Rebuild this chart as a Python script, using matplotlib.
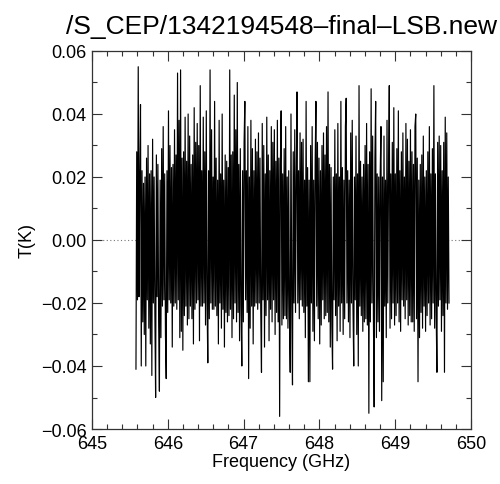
import numpy as np
import matplotlib
matplotlib.use("Agg")
import matplotlib.pyplot as plt
from matplotlib.ticker import MultipleLocator

plt.rcParams["font.family"] = ["Liberation Sans", "DejaVu Sans"]

TITLE = "/S_CEP/1342194548\u2013final\u2013LSB.new"

# channel grid of the LSB spectrum (GHz), first and last channel
F_START, F_END = 645.58, 649.71

# antenna temperature per channel, in mK
t_mk = [
    -41, 28, -19, 55, -18, 21, 43, -40, 22, -26, 18, -30, 20, -40, 26, -19, 30, -28, 21, -33,
    22, -43, 32, -20, 20, -23, -50, 27, -18, 24, -26, -48, 19, -31, 29, -21, 36, -19, 21, -30,
    -44, 22, -23, 41, -19, 30, -20, 23, -34, 24, -21, 35, -20, 27, -22, 53, -19, 38, -31, 54,
    -29, 26, -35, 28, -24, 39, -21, 25, -27, 40, -25, 33, -21, 24, -25, 27, -33, 42, -22, 31,
    -20, 37, -19, 30, -32, 49, -21, 22, -21, 39, -20, 28, -27, 41, -19, -39, 22, -25, 54, -20,
    35, -22, 20, -22, 44, -21, 26, -24, 19, -33, 38, -20, 21, -28, 40, -22, 19, -34, 27, -23,
    25, -26, 23, -24, 54, -22, 27, -31, 28, -25, 46, -20, 35, -26, 50, -23, 24, -32, 29, -21,
    -40, 22, -26, 31, 44, -19, 22, -23, 36, -44, 20, -28, 38, -21, 29, -33, 22, -21, 32, -20,
    28, -22, 34, -20, 26, -22, -42, 37, -19, 30, -34, 21, -24, 39, -19, 27, -32, 22, -22, 36,
    -26, 31, -19, 35, -30, 25, -23, 38, -26, 26, -56, 24, 41, -27, 21, -25, 29, -24, 36, -25,
    20, -28, 22, -24, -42, 40, -21, -46, 28, -20, 35, -23, 19, 47, -20, 22, -25, 34, -19, 31,
    -21, 32, -23, 19, -31, 44, -21, 23, -45, 19, -45, 30, -20, 36, -29, 19, -32, 25, 44, -21,
    31, -25, 26, -33, 22, -27, 30, -19, 34, -25, 27, -24, 36, -23, 47, -26, 24, -34, 23, -27,
    -41, 20, -19, 35, -24, 21, -32, 37, -21, 20, -29, 44, -20, 23, -30, 19, -25, 36, 45, -20,
    22, -26, 19, -31, 34, -20, 38, -21, -40, 20, -19, 33, -30, 21, -40, 49, -21, 25, -24, 20,
    -29, 24, -26, 30, -25, 37, -27, 24, -55, 28, -26, 48, -20, 33, -24, -53, 26, 44, -31, 21,
    -26, 20, -29, 21, 36, -51, 20, -45, 33, -21, 19, -31, 38, -20, 20, 49, -28, 21, -25, 31,
    -20, 42, -27, 21, -24, 29, -20, 41, -26, 22, -29, 28, -19, 34, -21, 20, -25, 37, -19, 32,
    -27, 25, -24, 35, -26, 28, -26, 24, -29, 36, 40, -25, 26, -45, 19, -31, 24, -23, 27, -28,
    33, -21, 20, -29, 22, -24, 28, -20, 36, -27, 21, -25, 29, -20, 49, -28, 21, -23, -42, 31,
    -21, 33, -19, 30, -29, 22, -24, 31, -42, 39, -20, 34, -22, 20, -20,
]

x_ticks = [645, 646, 647, 648, 649, 650]
x_tick_labels = ["645", "646", "647", "648", "649", "650"]
y_ticks = [-0.06, -0.04, -0.02, 0.00, 0.02, 0.04, 0.06]
y_tick_labels = ["\u22120.06", "\u22120.04", "\u22120.02", "0.00", "0.02", "0.04", "0.06"]

freq = np.linspace(F_START, F_END, len(t_mk))
temp = np.array(t_mk) / 1000.0

fig = plt.figure(figsize=(5.0, 4.85), dpi=100)
ax = fig.add_axes([0.184, 0.1134, 0.758, 0.7794])

ax.axhline(0.0, color="#777777", lw=0.8, ls=(0, (1, 2.2)), zorder=1)
ax.plot(freq, temp, color="black", lw=0.85, zorder=2)

ax.set_xlim(645, 650)
ax.set_ylim(-0.06, 0.06)
ax.set_xticks(x_ticks)
ax.set_xticklabels(x_tick_labels)
ax.set_yticks(y_ticks)
ax.set_yticklabels(y_tick_labels)
ax.xaxis.set_minor_locator(MultipleLocator(0.2))
ax.yaxis.set_minor_locator(MultipleLocator(0.01))
ax.tick_params(which="both", direction="in", top=True, right=True,
               labelsize=13, color="#333333", width=0.8, pad=4)
ax.tick_params(which="major", length=7)
ax.tick_params(which="minor", length=3.5)
for s in ax.spines.values():
    s.set_linewidth(0.9)
    s.set_color("#333333")

ax.set_xlabel("Frequency (GHz)", fontsize=13, labelpad=1)
ax.set_ylabel("T(K)", fontsize=13, labelpad=4)
fig.text(0.562, 0.944, TITLE, ha="center", va="center", fontsize=19)

fig.savefig("out.png", dpi=100, facecolor="white")
